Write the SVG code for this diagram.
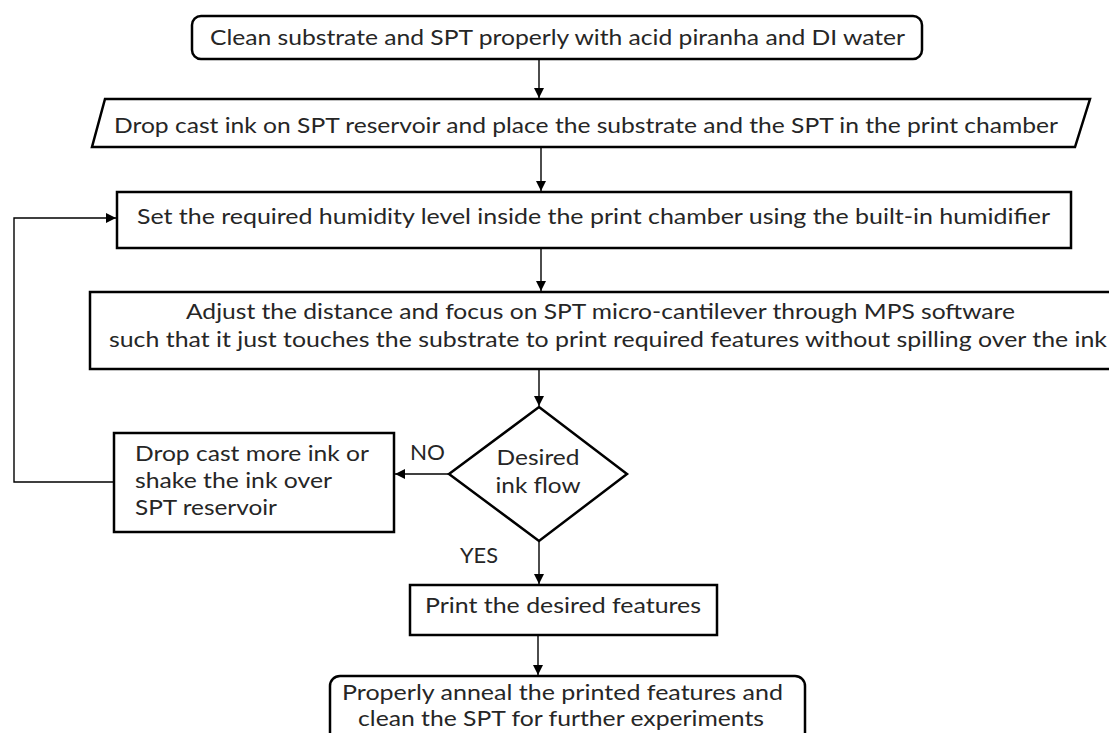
<svg xmlns="http://www.w3.org/2000/svg" width="1109" height="733" viewBox="0 0 1109 733">
<defs>
<marker id="ah" viewBox="0 0 10 10" refX="10" refY="5" markerWidth="10" markerHeight="10" markerUnits="userSpaceOnUse" orient="auto">
<path d="M0,0 L10,5 L0,10 z" fill="#000"/>
</marker>
<style>
.box{fill:#fff;stroke:#000;stroke-width:2.5}
.t{font-family:Lato,"Open Sans",sans-serif;font-size:21px;fill:#262626}
.c{fill:none;stroke:#000;stroke-width:1.4;marker-end:url(#ah)}
.l{fill:none;stroke:#000;stroke-width:1.4}
</style>
</defs>
<rect width="1109" height="733" fill="#fff"/>
<g id="connectors">
<line class="c" x1="539" y1="60" x2="539" y2="98"/>
<line class="c" x1="541" y1="148" x2="541" y2="191"/>
<line class="c" x1="541" y1="249" x2="541" y2="291"/>
<line class="c" x1="539" y1="370" x2="539" y2="406"/>
<line class="c" x1="449" y1="474" x2="395" y2="474"/>
<polyline class="c" points="114,482 14,482 14,218 116,218"/>
<line class="c" x1="539" y1="541" x2="539" y2="584"/>
<line class="c" x1="538" y1="636" x2="538" y2="675"/>
</g>
<g id="n1">
<rect class="box" x="192" y="16" width="730" height="43" rx="9"/>
<text class="t" x="210" y="45" textLength="695" lengthAdjust="spacingAndGlyphs">Clean substrate and SPT properly with acid piranha and DI water</text>
</g>
<g id="n2">
<polygon class="box" points="105,99 1090,99 1075,147 92,147"/>
<text class="t" x="114" y="133" textLength="944" lengthAdjust="spacingAndGlyphs">Drop cast ink on SPT reservoir and place the substrate and the SPT in the print chamber</text>
</g>
<g id="n3">
<rect class="box" x="117" y="192" width="954" height="56"/>
<text class="t" x="137" y="224" textLength="913" lengthAdjust="spacingAndGlyphs">Set the required humidity level inside the print chamber using the built-in humidifier</text>
</g>
<g id="n4">
<rect class="box" x="90" y="292" width="1040" height="77"/>
<text class="t" x="186" y="319" textLength="829" lengthAdjust="spacingAndGlyphs">Adjust the distance and focus on SPT micro-cantilever through MPS software</text>
<text class="t" x="109" y="347" textLength="998" lengthAdjust="spacingAndGlyphs">such that it just touches the substrate to print required features without spilling over the ink</text>
</g>
<g id="n5">
<polygon class="box" points="539,407 627,474 539,541 449,474"/>
<text class="t" x="538" y="465" text-anchor="middle" textLength="83" lengthAdjust="spacingAndGlyphs">Desired</text>
<text class="t" x="538" y="493" text-anchor="middle" textLength="85" lengthAdjust="spacingAndGlyphs">ink flow</text>
</g>
<g id="n6">
<rect class="box" x="114" y="433" width="280" height="99"/>
<text class="t" x="135" y="461" textLength="234" lengthAdjust="spacingAndGlyphs">Drop cast more ink or</text>
<text class="t" x="135" y="488" textLength="197" lengthAdjust="spacingAndGlyphs">shake the ink over</text>
<text class="t" x="135" y="515" textLength="142" lengthAdjust="spacingAndGlyphs">SPT reservoir</text>
</g>
<g id="labels">
<text class="t" x="410" y="460" textLength="35" lengthAdjust="spacingAndGlyphs">NO</text>
<text class="t" x="460" y="563" textLength="38" lengthAdjust="spacingAndGlyphs">YES</text>
</g>
<g id="n7">
<rect class="box" x="410" y="585" width="307" height="50"/>
<text class="t" x="425" y="613" textLength="276" lengthAdjust="spacingAndGlyphs">Print the desired features</text>
</g>
<g id="n8">
<rect class="box" x="330" y="676" width="475" height="80" rx="10"/>
<text class="t" x="342" y="700" textLength="441" lengthAdjust="spacingAndGlyphs">Properly anneal the printed features and</text>
<text class="t" x="358" y="726" textLength="406" lengthAdjust="spacingAndGlyphs">clean the SPT for further experiments</text>
</g>
</svg>
